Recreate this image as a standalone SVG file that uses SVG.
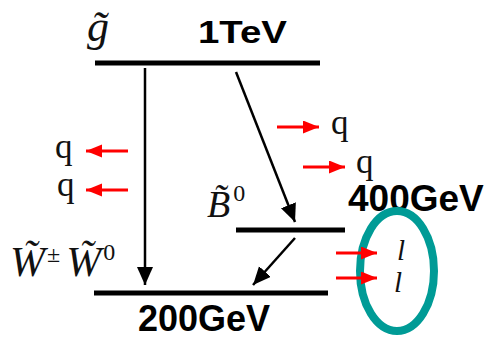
<svg xmlns="http://www.w3.org/2000/svg" width="486" height="339" viewBox="0 0 486 339">
<defs>
<marker id="ah" markerUnits="userSpaceOnUse" markerWidth="20" markerHeight="18" refX="18" refY="8" orient="auto">
<path d="M0,0 L18,8 L0,16 Z" fill="#000"/>
</marker>
<marker id="rh" markerUnits="userSpaceOnUse" markerWidth="18" markerHeight="14" refX="16" refY="6.5" orient="auto">
<path d="M0,0 L16,6.5 L0,13 Z" fill="#ff0000"/>
</marker>
</defs>
<style>
.lvl{stroke:#000;stroke-width:5;fill:none}
.bold{font-family:"Liberation Sans",Arial,sans-serif;font-weight:bold;fill:#000}
.m{font-family:"Liberation Serif","Times New Roman",serif;font-style:italic;fill:#111}
.r{font-family:"Liberation Serif","Times New Roman",serif;fill:#111}
.ar{stroke:#000;stroke-width:2.5;fill:none}
.red{stroke:#ff0000;stroke-width:3;fill:none}
</style>
<rect width="486" height="339" fill="#fff"/>
<g id="gluino">
<line class="lvl" x1="95" y1="63" x2="320" y2="63"/>
<text class="m" x="87" y="41" font-size="44">g̃</text>
<text class="bold" x="198" y="43" font-size="32" textLength="89" lengthAdjust="spacingAndGlyphs">1TeV</text>
</g>
<g id="bino">
<line class="lvl" x1="236" y1="230" x2="345" y2="230"/>
<text class="m" x="207" y="217" font-size="38">B̃<tspan font-style="normal" font-size="24" dx="3" dy="-16">0</tspan></text>
<text class="bold" x="348" y="211" font-size="37">400GeV</text>
</g>
<g id="wino">
<line class="lvl" x1="94" y1="293" x2="328" y2="293"/>
<text class="m" x="10" y="276" font-size="42">W̃<tspan font-style="normal" font-size="24" dx="2" dy="-14">±</tspan><tspan dx="6" dy="14">W̃</tspan><tspan font-style="normal" font-size="24" dx="2" dy="-16">0</tspan></text>
<text class="bold" x="138" y="331" font-size="36">200GeV</text>
</g>
<g id="leptons">
<ellipse cx="397" cy="271" rx="37" ry="60" fill="none" stroke="#009b96" stroke-width="8"/>
<text class="m" x="397" y="260" font-size="29">l</text>
<text class="m" x="394" y="292" font-size="29">l</text>
</g>
<g id="quarks">
<text class="r" x="55" y="158" font-size="35">q</text>
<text class="r" x="57" y="196" font-size="35">q</text>
<text class="r" x="331" y="134" font-size="35">q</text>
<text class="r" x="356" y="173" font-size="35">q</text>
</g>
<g id="connectors">
<line class="ar" x1="145" y1="68" x2="145" y2="285" marker-end="url(#ah)"/>
<line class="ar" x1="236" y1="72" x2="295" y2="222" marker-end="url(#ah)"/>
<line class="ar" x1="295" y1="238" x2="253" y2="285" marker-end="url(#ah)"/>
<line class="red" x1="128" y1="151" x2="86" y2="151" marker-end="url(#rh)"/>
<line class="red" x1="128" y1="190" x2="86" y2="190" marker-end="url(#rh)"/>
<line class="red" x1="277" y1="127" x2="319" y2="127" marker-end="url(#rh)"/>
<line class="red" x1="303" y1="167" x2="345" y2="167" marker-end="url(#rh)"/>
<line class="red" x1="336" y1="253" x2="377" y2="253" marker-end="url(#rh)"/>
<line class="red" x1="336" y1="278" x2="377" y2="278" marker-end="url(#rh)"/>
</g>
</svg>
